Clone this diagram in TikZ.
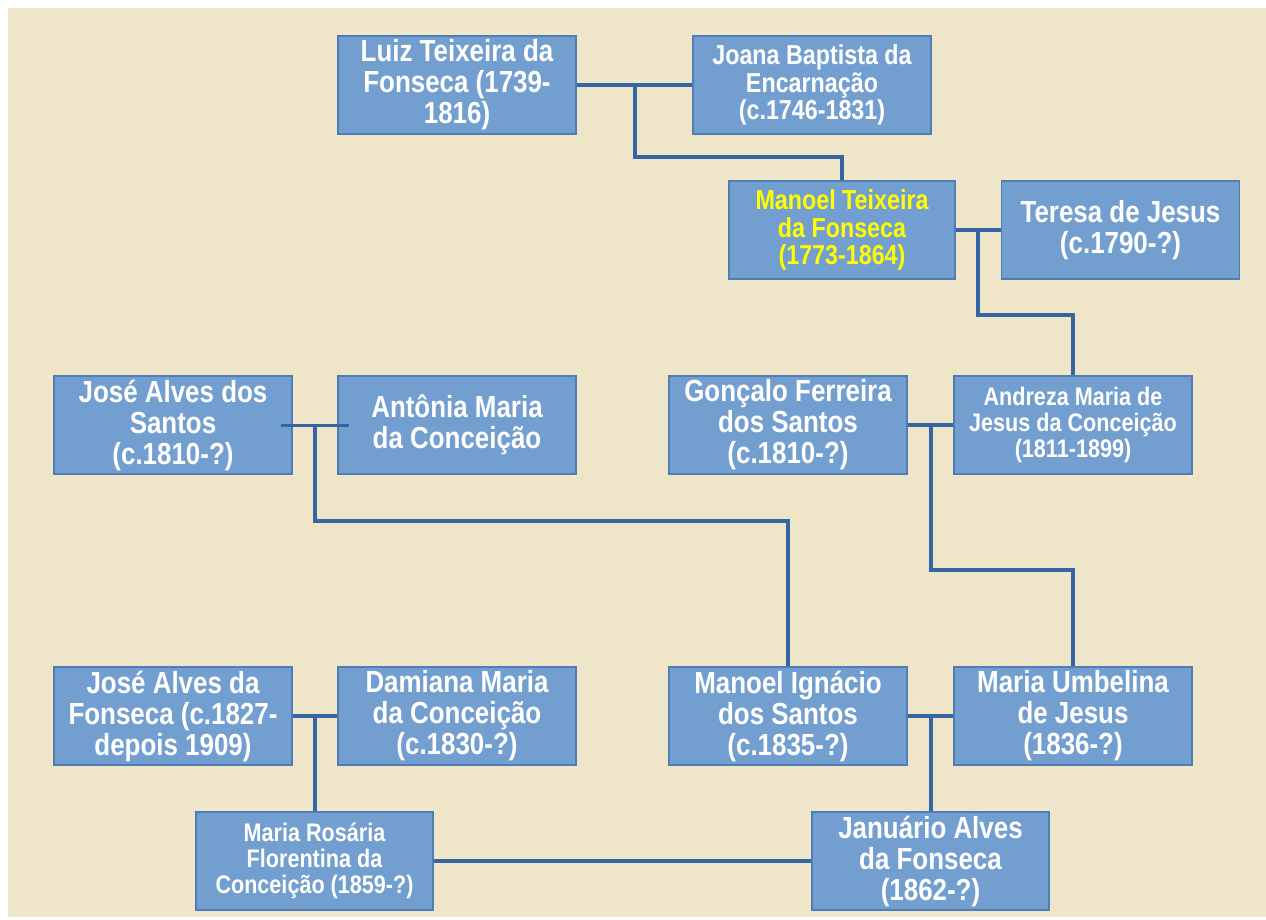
\documentclass[tikz,border=0pt]{standalone}
\usepackage{fontspec}
\newfontfamily\boxfont{Liberation Sans}[FakeStretch=0.85]
\usetikzlibrary{calc}
\definecolor{parchment}{HTML}{EFE5C8}
\definecolor{boxblue}{HTML}{729FCF}
\definecolor{edgeblue}{HTML}{4F7DB5}
\definecolor{lineblue}{HTML}{3465A4}
\definecolor{nameyellow}{HTML}{FFFF00}

\begin{document}
\begin{tikzpicture}[x=1pt,y=-1pt,
    person/.style={draw=edgeblue,line width=1.2pt,fill=boxblue,text=white,
        minimum width=238pt,minimum height=98pt,inner sep=0pt,align=center,
        font=\boxfont\bfseries\fontsize{30.5}{31}\selectfont},
    midtext/.style={font=\boxfont\bfseries\fontsize{27.4}{27.5}\selectfont},
    lighttext/.style={font=\boxfont\bfseries\fontsize{25.4}{26}\selectfont},
    link/.style={draw=lineblue,line width=4pt}]
    \useasboundingbox (0,0) rectangle (1266,920);
    \fill[white] (0,0) rectangle (1266,920);
    \fill[parchment] (8,8) rectangle (1266,917);

    \node[person] (luiz) at (457,85) {Luiz Teixeira da\\Fonseca (1739-\\1816)};
    \node[person,midtext] (joana) at (812,85) {Joana Baptista da\\Encarnação\\(c.1746-1831)};
    \node[person,midtext,text=nameyellow,minimum width=226pt] (manoel) at (842,230) {Manoel Teixeira\\da Fonseca\\(1773-1864)};
    \node[person] (teresa) at (1120.5,230) {Teresa de Jesus\\(c.1790-?)};
    \node[person] (jose) at (173,425) {José Alves dos\\Santos\\(c.1810-?)};
    \node[person] (antonia) at (457,425) {Antônia Maria\\da Conceição};
    \node[person] (goncalo) at (788,425) {Gonçalo Ferreira\\dos Santos\\(c.1810-?)};
    \node[person,lighttext] (andreza) at (1073,425) {Andreza Maria de\\Jesus da Conceição\\(1811-1899)};
    \node[person] (josef) at (173,716) {José Alves da\\Fonseca (c.1827-\\depois 1909)};
    \node[person] (damiana) at (457,716) {Damiana Maria\\da Conceição\\(c.1830-?)};
    \node[person] (ignacio) at (788,716) {Manoel Ignácio\\dos Santos\\(c.1835-?)};
    \node[person] (umbelina) at (1073,716) {Maria Umbelina\\de Jesus\\(1836-?)};
    \node[person,lighttext,minimum width=237pt] (rosaria) at (314.5,861) {Maria Rosária\\Florentina da\\Conceição (1859-?)};
    \node[person,minimum width=237pt] (januario) at (930.5,861) {Januário Alves\\da Fonseca\\(1862-?)};

    \coordinate (lj) at ($(luiz.east)!.5!(joana.west)$);
    \coordinate (mt) at ($(manoel.east)!.5!(teresa.west)$);
    \coordinate (ja) at ($(jose.east)!.5!(antonia.west)$);
    \coordinate (ga) at ($(goncalo.east)!.5!(andreza.west)$);
    \coordinate (fd) at ($(josef.east)!.5!(damiana.west)$);
    \coordinate (iu) at ($(ignacio.east)!.5!(umbelina.west)$);

    \draw[link] (luiz) -- (joana);
    \draw[link] (lj) -- ++(0,72) -| (manoel.north);
    \draw[link] (manoel) -- (teresa);
    \draw[link] (mt) -- ++(0,85) -| (andreza.north);
    \draw[link,line width=3pt] ([xshift=-12pt]jose.east) -- ([xshift=12pt]antonia.west);
    \draw[link] (ja) -- ++(0,96) -| (ignacio.north);
    \draw[link] (goncalo) -- (andreza);
    \draw[link] (ga) -- ++(0,145) -| (umbelina.north);
    \draw[link] (josef) -- (damiana);
    \draw[link] (fd) -- (fd |- rosaria.north);
    \draw[link] (ignacio) -- (umbelina);
    \draw[link] (iu) -- (iu |- januario.north);
    \draw[link] (rosaria) -- (januario);
\end{tikzpicture}
\end{document}
